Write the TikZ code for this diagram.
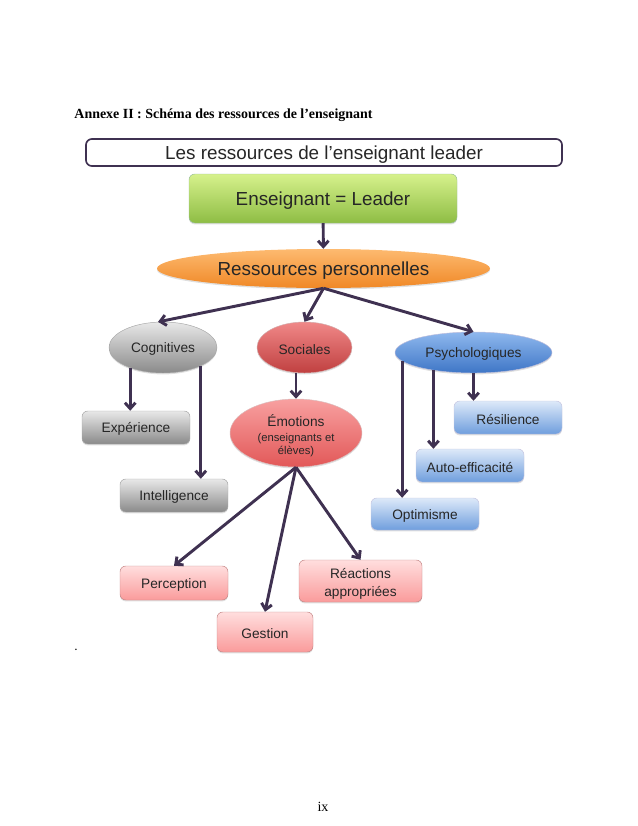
\documentclass[tikz,border=0pt]{standalone}
\usepackage{fontspec}
\setmainfont{Liberation Sans}
\newfontfamily\timesfont{Liberation Serif}
\usetikzlibrary{arrows.meta, shapes.geometric, shadows}
\definecolor{arrowpurple}{HTML}{3F3151}
\newcommand{\px}{0.03cm}
\tikzset{
  softshadow/.style={drop shadow={shadow xshift=0pt, shadow yshift=-1.2pt, opacity=.25}},
  dropped/.style={execute at begin node={\rule{0pt}{#1}}},
  bigtext/.style={font=\fontsize{16.1}{19}\selectfont, text=black!85, dropped=14.5pt},
  midtext/.style={font=\fontsize{11.7}{15.3}\selectfont, text=black!85, dropped=11.5pt},
  roundbox/.style 2 args={rectangle, rounded corners=5pt, minimum width=#1*\px, minimum height=#2*\px, inner sep=0pt, align=center, softshadow},
  oval/.style 2 args={ellipse, minimum width=#1*\px, minimum height=#2*\px, inner sep=0pt, align=center, softshadow},
  greenfill/.style={draw=white!70!green!50!gray, top color={rgb,255:red,214;green,241;blue,140}, bottom color={rgb,255:red,142;green,189;blue,68}},
  orangefill/.style={top color={rgb,255:red,253;green,186;blue,112}, bottom color={rgb,255:red,240;green,136;blue,38}},
  grayfill/.style={draw=gray!70, top color={rgb,255:red,232;green,232;blue,232}, bottom color={rgb,255:red,138;green,138;blue,138}},
  redfill/.style={draw=red!30!gray!50, top color={rgb,255:red,240;green,136;blue,136}, bottom color={rgb,255:red,192;green,64;blue,64}},
  rosefill/.style={draw=red!30!gray!40, top color={rgb,255:red,248;green,160;blue,160}, bottom color={rgb,255:red,226;green,88;blue,88}},
  pinkfill/.style={draw=red!35!gray!70, top color={rgb,255:red,255;green,222;blue,222}, bottom color={rgb,255:red,250;green,155;blue,155}},
  bluefill/.style={draw=blue!30!gray!40, top color={rgb,255:red,143;green,184;blue,238}, bottom color={rgb,255:red,62;green,118;blue,198}},
  paleblue/.style={draw=blue!30!gray!35, top color={rgb,255:red,221;green,233;blue,249}, bottom color={rgb,255:red,111;green,158;blue,221}},
  link/.style={line width=2.5pt, arrowpurple, ->}
}
\begin{document}
\begin{tikzpicture}[x=\px, y=-\px, >={Straight Barb[length=5pt, width=9pt]}]
  \useasboundingbox (0,0) rectangle (638,826);
  \node (heading) at (223.5,115) {\timesfont\bfseries\fontsize{11.9}{14}\selectfont Annexe II : Schéma des ressources de l’enseignant};
  \node (pagenum) at (323,807) {\timesfont\fontsize{12}{14}\selectfont ix};
  \node (speck) at (76,650) {\timesfont\bfseries\fontsize{8}{9}\selectfont .};

  \node (title) at (324,152.5) [rectangle, rounded corners=5pt, draw=arrowpurple, line width=1.4pt, minimum width=476*\px, minimum height=27*\px, inner sep=0pt, bigtext] {Les ressources de l’enseignant leader};
  \node (leader) at (323,198.5) [roundbox={268}{49}, greenfill, bigtext] {Enseignant = Leader};
  \node (res) at (323.5,268.5) [oval={333}{39}, orangefill, bigtext] {Ressources personnelles};

  \node (cog) at (163,347.5) [oval={108}{51}, grayfill, midtext] {Cognitives};
  \node (soc) at (304.5,347.5) [oval={95}{51}, redfill, midtext] {Sociales};
  \node (psy) at (473.5,352.5) [oval={157}{41}, bluefill, midtext] {Psychologiques};
  \node (emo) at (296,433) [oval={132}{68}, rosefill, midtext] {\rule{0pt}{14.5pt}Émotions\\[-2.5pt]\fontsize{9.6}{11}\selectfont (enseignants et\\[-4.7pt]\fontsize{9.6}{11}\selectfont élèves)};

  \node (exp) at (136,427.5) [roundbox={108}{33}, grayfill, midtext] {Expérience};
  \node (intel) at (174,495.5) [roundbox={108}{33}, grayfill, midtext] {Intelligence};
  \node (resi) at (508,417.5) [roundbox={108}{33}, paleblue, midtext] {Résilience};
  \node (auto) at (470,465.5) [roundbox={108}{33}, paleblue, midtext] {Auto-efficacité};
  \node (opti) at (425,514) [roundbox={108}{32}, paleblue, midtext] {Optimisme};
  \node (perc) at (174,583) [roundbox={108}{34}, pinkfill, midtext] {Perception};
  \node (gest) at (265,632) [roundbox={96}{40}, pinkfill, midtext] {Gestion};
  \node (react) at (360.5,581) [roundbox={123}{42}, pinkfill, midtext] {\rule{0pt}{13.1pt}Réactions\\appropriées};

  \draw [link] (leader) -- (res);
  \draw [link] (res.south) -- (cog.101);
  \draw [link] (res.south) -- (soc.north);
  \draw [link] (res.south) -- (psy.north);
  \draw [link] (cog.212) -- (cog.212 |- exp.north);
  \draw [link] (cog.334) -- (cog.334 |- intel.north);
  \draw [link] (emo.north |- soc.south) -- (emo.north);
  \draw [link] (psy.south) -- (psy.south |- resi.north);
  \draw [link] (psy.204) -- (psy.204 |- auto.north);
  \draw [link] (psy.187) -- (psy.187 |- opti.north);
  \draw [link] (emo.south) -- (perc.north);
  \draw [link] (emo.south) -- (gest.north);
  \draw [link] (emo.south) -- (react.north);
\end{tikzpicture}
\end{document}
